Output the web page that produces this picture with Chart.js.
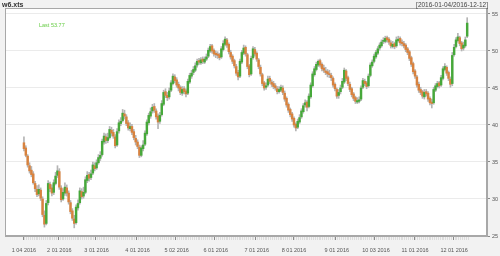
<!DOCTYPE html>
<html><head><meta charset="utf-8">
<script src="https://cdn.jsdelivr.net/npm/chart.js@4/dist/chart.umd.min.js"></script>
<style>html,body{margin:0;padding:0;background:#f2f2f2}canvas{display:block}</style>
</head><body>
<canvas id="c" width="500" height="256"></canvas>
<script>
const titleText = "w6.xts";
const rangeText = "[2016-01-04/2016-12-12]";
const tickIndex = [0,19,39,61,82,103,125,145,168,189,210,231];
const tickLabels = ["1 04 2016","2 01 2016","3 01 2016","4 01 2016","5 02 2016","6 01 2016","7 01 2016","8 01 2016","9 01 2016","10 03 2016","11 01 2016","12 01 2016"];
const yTicks = [25,30,35,40,45,50,55];

const open = [37.6,36.9,35.8,34.5,33.9,33.4,32.1,31.3,30.7,31.2,30.0,27.8,26.7,29.5,32.0,31.5,30.9,32.1,33.2,33.7,
31.5,30.0,30.8,31.5,30.8,29.5,28.4,27.3,26.8,28.8,29.5,31.0,30.4,30.9,32.5,33.3,32.9,33.5,34.5,34.2,
34.9,35.5,36.0,37.7,38.4,37.9,38.3,39.3,39.0,38.4,37.3,39.2,40.2,40.6,41.5,41.1,40.3,39.5,39.8,39.1,
38.2,37.7,37.0,35.9,36.8,37.4,38.8,40.3,41.2,41.9,42.5,41.9,41.2,40.5,41.4,42.8,44.5,44.0,43.8,44.7,
45.6,46.5,46.1,45.5,45.1,44.3,44.9,44.6,44.3,45.8,46.6,47.1,47.4,48.1,48.7,48.4,48.9,48.5,48.9,49.3,
50.0,50.7,50.1,49.7,49.6,49.5,49.2,50.2,50.9,51.5,50.9,49.8,49.3,48.7,47.9,47.1,46.6,48.5,49.7,50.5,
49.5,48.0,46.9,49.1,50.2,49.7,48.8,47.8,46.8,45.7,45.1,45.4,46.3,45.8,45.6,45.3,44.9,44.5,44.7,45.0,
44.3,43.6,42.8,42.1,41.5,40.9,40.1,39.7,40.4,41.1,41.8,42.7,43.1,42.5,43.8,45.3,46.8,47.5,48.1,48.7,
48.2,47.7,47.3,47.2,46.9,46.7,46.3,45.5,44.8,44.0,44.5,45.1,45.8,47.3,46.4,45.5,44.9,44.2,43.7,43.1,
43.2,43.5,45.1,45.9,45.7,45.3,46.7,48.0,48.6,49.2,49.7,50.4,50.7,51.3,51.3,51.8,51.6,51.1,50.6,51.0,
50.7,51.4,51.7,51.2,51.0,50.8,50.3,49.9,49.1,48.3,47.3,46.5,45.5,44.8,44.5,43.8,44.5,44.3,43.6,43.1,
43.0,44.7,45.2,45.7,45.4,46.3,47.5,47.8,47.1,46.2,45.6,49.5,50.6,51.4,51.8,51.1,50.4,50.7,52.0];

const high = [38.4,37.2,36.0,34.9,34.4,33.7,32.4,31.8,31.9,31.5,30.3,28.4,29.8,32.5,32.3,31.9,32.6,33.6,34.5,34.1,
31.8,31.4,32.2,31.9,31.1,29.8,28.7,27.8,29.2,29.9,31.5,31.4,31.6,33.0,33.7,33.6,33.9,35.0,34.9,35.3,
36.0,36.4,38.1,38.9,38.8,38.9,39.8,39.7,39.4,38.7,39.5,40.7,41.0,42.1,42.0,41.4,40.6,40.3,40.1,39.4,
38.6,38.0,37.3,37.2,37.9,39.2,40.7,41.6,42.3,42.8,42.9,42.2,41.5,41.7,43.3,44.7,44.9,44.4,45.0,46.0,
46.9,46.8,46.4,45.8,45.3,45.2,45.2,44.9,46.2,47.0,47.4,47.9,48.4,48.9,49.0,49.1,49.2,49.2,49.6,50.4,
50.9,50.9,50.3,50.0,49.9,49.7,50.6,51.4,51.9,51.7,51.1,50.1,49.5,48.9,48.2,47.4,48.9,50.1,50.8,50.7,
49.7,48.2,49.3,50.6,50.5,49.9,49.0,48.1,47.0,45.9,45.7,46.6,46.6,46.1,45.9,45.6,45.2,45.2,45.4,45.3,
44.6,43.8,43.0,42.3,41.7,41.1,40.3,40.8,41.4,42.2,42.9,43.4,43.3,44.2,45.7,47.2,47.9,48.5,48.8,48.9,
48.4,48.1,47.8,47.5,47.4,47.0,46.5,45.7,45.0,44.8,45.4,46.3,47.7,47.5,46.6,45.8,45.1,44.4,43.9,43.7,
43.8,45.3,46.3,46.2,45.9,46.9,48.4,48.8,49.6,50.1,50.6,51.1,51.5,51.8,52.0,52.0,51.8,51.4,51.3,51.2,
51.9,52.0,51.9,51.5,51.3,51.0,50.5,50.1,49.3,48.5,47.5,46.7,45.8,45.1,44.7,44.8,44.8,44.5,43.8,43.5,
45.1,45.6,45.9,45.9,46.7,47.9,48.3,48.0,47.3,46.5,49.8,50.9,51.8,52.4,52.0,51.3,51.2,51.9,54.5];

const low = [36.5,35.7,34.3,33.5,33.0,32.0,31.0,30.3,30.4,29.8,27.6,26.2,26.5,29.2,31.0,30.4,30.6,31.9,32.9,31.3,
29.6,29.8,30.5,30.4,29.3,28.0,27.1,26.1,26.6,28.5,29.3,30.0,30.1,30.7,32.2,32.4,32.6,33.3,33.8,34.0,
34.7,35.2,35.8,37.4,37.5,37.6,38.1,38.5,38.2,36.9,37.1,38.9,39.9,40.4,40.8,39.9,39.3,39.2,38.7,38.0,
37.3,36.8,35.6,35.7,36.5,37.2,38.6,40.0,40.9,41.6,41.7,40.8,39.5,40.2,41.2,42.6,43.7,43.3,43.5,44.5,
45.4,45.7,45.1,44.6,44.1,44.0,44.2,43.8,44.1,45.6,46.3,46.8,47.2,47.8,48.2,48.2,48.3,48.3,48.7,49.1,
49.8,49.7,49.3,49.1,49.0,48.8,49.0,50.0,50.7,50.5,49.6,48.9,48.3,47.7,46.7,46.1,46.4,48.3,49.5,49.3,
47.6,46.5,46.7,48.9,49.3,48.6,47.6,46.6,45.3,44.7,44.8,45.2,45.6,45.2,44.9,44.7,44.2,44.3,44.5,44.1,
43.2,42.4,41.7,41.1,40.5,39.7,39.2,39.5,40.2,40.9,41.6,42.4,41.9,42.3,43.6,45.1,46.6,47.3,47.9,47.8,
47.3,47.1,46.8,46.5,46.4,46.0,45.1,44.6,43.6,43.6,44.2,44.9,45.6,46.0,45.3,44.5,43.8,43.3,42.9,42.9,
43.0,43.3,44.9,45.3,44.9,45.1,46.5,47.8,48.4,49.0,49.5,50.1,50.5,51.0,51.1,51.2,50.9,50.4,50.4,50.3,
50.5,51.2,50.8,50.7,50.4,49.9,49.5,48.7,47.9,46.9,46.3,45.1,44.4,44.1,43.6,43.5,43.9,43.2,42.7,42.3,
42.8,44.5,45.0,45.0,45.2,46.1,47.3,46.7,46.0,45.1,45.3,49.3,50.4,51.2,50.7,50.0,50.1,50.5,51.8];

const close = [36.8,35.9,34.6,33.8,33.3,32.2,31.4,30.6,31.3,30.1,27.9,26.6,29.4,32.1,31.4,30.8,32.2,33.1,33.8,31.6,
29.9,30.9,31.6,30.8,29.6,28.3,27.4,26.7,28.9,29.4,31.1,30.3,30.9,32.6,33.2,32.8,33.4,34.6,34.1,34.9,
35.6,35.9,37.8,38.5,37.9,38.3,39.4,38.9,38.5,37.2,39.1,40.3,40.5,41.6,41.2,40.2,39.6,39.8,39.0,38.3,
37.7,37.1,35.9,36.9,37.3,38.9,40.4,41.3,41.8,42.4,42.0,41.1,40.4,41.3,42.9,44.4,44.0,43.7,44.6,45.7,
46.6,46.0,45.4,45.0,44.4,44.8,44.5,44.2,45.9,46.7,47.0,47.5,48.0,48.6,48.5,48.8,48.6,48.9,49.2,50.1,
50.6,50.0,49.6,49.5,49.4,49.1,50.3,51.0,51.6,50.8,49.9,49.2,48.6,48.0,47.0,46.5,48.6,49.8,50.4,49.6,
47.9,46.8,49.0,50.3,49.6,48.9,47.9,46.9,45.6,45.0,45.3,46.2,45.9,45.5,45.2,45.0,44.5,44.8,45.1,44.4,
43.5,42.7,42.0,41.4,40.8,40.0,39.6,40.5,41.0,41.9,42.6,43.0,42.4,43.9,45.4,46.9,47.6,48.2,48.6,48.1,
47.6,47.4,47.1,46.9,46.8,46.4,45.4,44.9,43.9,44.4,45.0,45.9,47.4,46.3,45.6,44.8,44.1,43.6,43.2,43.3,
43.4,45.0,46.0,45.6,45.2,46.6,48.1,48.5,49.3,49.8,50.3,50.8,51.2,51.4,51.7,51.5,51.2,50.7,50.9,50.6,
51.5,51.6,51.1,51.0,50.7,50.2,49.8,49.0,48.2,47.2,46.6,45.4,44.7,44.4,43.9,44.4,44.2,43.5,43.0,42.9,
44.8,45.3,45.6,45.3,46.4,47.6,47.9,47.0,46.3,45.5,49.4,50.5,51.5,51.9,51.0,50.3,50.8,51.5,53.77];

const upCol = '#46a83a';
const dnCol = '#d8823e';
const wickCol = '#b4b4b4';

const idx = close.map((_, i) => i);
const bodyData = idx.map(i => ({x: i, y: [open[i], close[i]]}));
const wickData = idx.map(i => ({x: i, y: [low[i], high[i]]}));
const bodyColors = idx.map(i => close[i] >= open[i] ? upCol : dnCol);
const labelMap = {};
tickIndex.forEach((v, k) => labelMap[v] = tickLabels[k]);
const majorSet = new Set(tickIndex);

const deco = {
  id: 'deco',
  beforeDraw(chart) {
    const {ctx, chartArea: a} = chart;
    ctx.save();
    ctx.fillStyle = '#f2f2f2';
    ctx.fillRect(0, 0, chart.width, chart.height);
    ctx.fillStyle = '#ffffff';
    ctx.fillRect(a.left, a.top, a.right - a.left, a.bottom - a.top);
    ctx.restore();
  },
  afterDraw(chart) {
    const {ctx, chartArea: a} = chart;
    ctx.save();
    ctx.strokeStyle = '#a8a8a8';
    ctx.lineWidth = 1;
    ctx.strokeRect(a.left + 0.5, a.top + 0.5, a.right - a.left - 1, a.bottom - a.top - 1);
    ctx.textBaseline = 'alphabetic';
    ctx.fillStyle = '#333333';
    ctx.font = 'bold 7px "Liberation Sans", Arial, sans-serif';
    ctx.textAlign = 'left';
    ctx.fillText(titleText, 2, 6.5);
    ctx.font = '6.5px "Liberation Sans", Arial, sans-serif';
    ctx.fillStyle = '#444444';
    ctx.textAlign = 'right';
    ctx.fillText(rangeText, a.right + 1, 6.5);
    ctx.textAlign = 'left';
    ctx.fillStyle = '#66cc44';
    ctx.font = '5.5px "Liberation Sans", Arial, sans-serif';
    ctx.fillText('Last ' + close[close.length - 1], a.left + 34, 27);
    ctx.restore();
  }
};

new Chart(document.getElementById('c'), {
  type: 'bar',
  data: {
    datasets: [
      {data: bodyData, backgroundColor: bodyColors, barThickness: 1.8, minBarLength: 1, grouped: false, borderWidth: 0},
      {data: wickData, backgroundColor: wickCol, barThickness: 1, grouped: false, borderWidth: 0}
    ]
  },
  options: {
    responsive: false,
    animation: false,
    devicePixelRatio: 1,
    layout: {padding: {left: 5, top: 8, right: 0, bottom: 0}},
    plugins: {legend: {display: false}, tooltip: {enabled: false}},
    scales: {
      x: {
        type: 'linear', position: 'bottom', min: -9.63, max: 248.1,
        afterBuildTicks: s => { s.ticks = idx.map(v => ({value: v})); },
        afterFit: s => { s.height = 20; },
        grid: {drawOnChartArea: false, drawTicks: true, tickLength: 4,
               tickColor: c => (c.tick && majorSet.has(c.tick.value)) ? '#8a8a8a' : '#dcdcdc'},
        border: {display: true, color: '#a8a8a8'},
        ticks: {autoSkip: false, maxRotation: 0, minRotation: 0, padding: 7,
                color: '#555555', font: {size: 5.5, family: '"Liberation Sans", Arial, sans-serif'},
                callback: v => (labelMap[v] !== undefined ? labelMap[v] : '')}
      },
      y: {
        position: 'right', min: 25, max: 55.81,
        afterBuildTicks: s => { s.ticks = yTicks.map(v => ({value: v})); },
        afterFit: s => { s.width = 13; },
        grid: {color: '#ebebeb', tickColor: '#8a8a8a', tickLength: 3, drawTicks: true},
        border: {display: true, color: '#a8a8a8'},
        ticks: {padding: 2, color: '#555555', font: {size: 5.5, family: '"Liberation Sans", Arial, sans-serif'},
                callback: v => String(v)}
      }
    }
  },
  plugins: [deco]
});
</script>
</body></html>
